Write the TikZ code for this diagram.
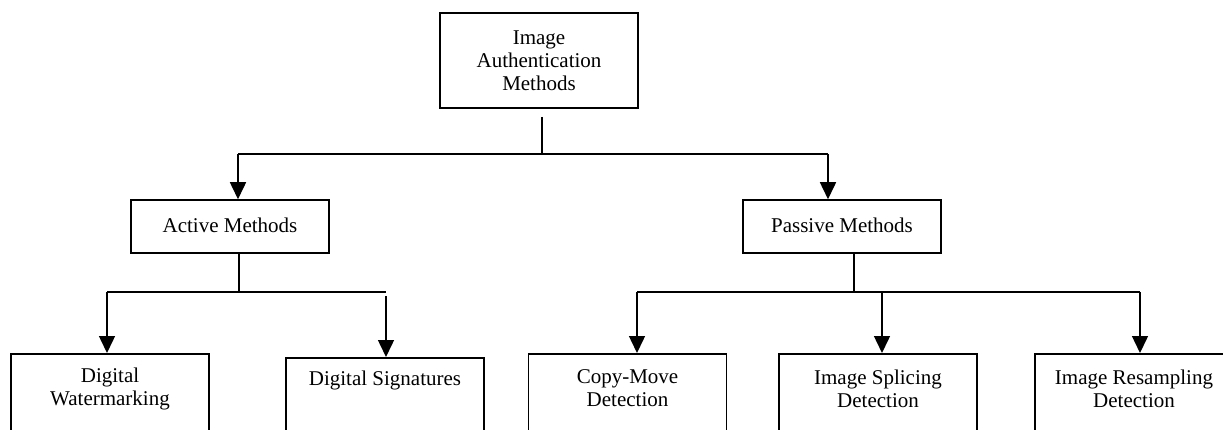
\documentclass[tikz,border=0pt]{standalone}
\usepackage{fontspec}
\setmainfont{Liberation Serif}
\usetikzlibrary{arrows.meta}
\begin{document}
\begin{tikzpicture}[x=1pt,y=-1pt,
  box/.style={draw=black,line width=1.5pt,inner sep=0pt,align=center,
    font=\fontsize{21}{23}\selectfont},
  leaf/.style={draw=black,line width=1.5pt,inner sep=0pt,minimum width=198pt,
    minimum height=130pt,anchor=north},
  lbl/.style={inner sep=0pt,align=center,font=\fontsize{21}{23}\selectfont},
  conn/.style={line width=1.5pt},
  arr/.style={line width=1.5pt,-{Triangle[width=16pt,length=17pt]}}]
\useasboundingbox (0,0) rectangle (1223,430);
\fill[white] (0,0) rectangle (1223,430);
% boxes
\node[box,minimum width=198pt,minimum height=95pt] (top) at (539,60.5) {Image\\Authentication\\Methods};
\node[box,minimum width=198pt,minimum height=53pt] (act) at (230,226.5) {\raisebox{2.5pt}{Active Methods}};
\node[box,minimum width=198pt,minimum height=53pt] (pas) at (842,226.5) {\raisebox{2.5pt}{Passive Methods}};
\node[leaf] (dw) at (110,353) {};
\node[leaf] (ds) at (385,357) {};
\node[leaf] (cm) at (627.5,353) {};
\node[leaf] (is) at (878,353) {};
\node[leaf] (ir) at (1134,353) {};
\node[lbl] (dwt) at (110,388.5) {Digital\\Watermarking};
\node[lbl] (dst) at (385,380.5) {Digital Signatures};
\node[lbl] (cmt) at (627.5,388.5) {Copy-Move\\Detection};
\node[lbl] (ist) at (878,388.5) {Image Splicing\\Detection};
\node[lbl] (irt) at (1134,388.5) {Image Resampling\\Detection};
% junctions
\coordinate (ts) at (542,117);
\coordinate (tj) at (542,154);
\coordinate (la) at (238,154);
\coordinate (ra) at (828,154);
\draw[conn] (ts) -- (tj);
\draw[conn] (la) -- (ra);
\draw[arr] (la) -- (la |- act.north);
\draw[arr] (ra) -- (ra |- pas.north);
% active
\coordinate (aj) at (239,292);
\coordinate (al) at (107,292);
\coordinate (ar) at (386,292);
\coordinate (ar2) at (386,296);
\draw[conn] (act.south -| aj) -- (aj);
\draw[conn] (al) -- (ar);
\draw[arr] (al) -- (al |- dw.north);
\draw[arr] (ar2) -- (ar2 |- ds.north);
% passive
\coordinate (pj) at (854,292);
\coordinate (pl) at (637,292);
\coordinate (pm) at (882,292);
\coordinate (pr) at (1140,292);
\draw[conn] (pas.south -| pj) -- (pj);
\draw[conn] (pl) -- (pr);
\draw[arr] (pl) -- (pl |- cm.north);
\draw[arr] (pm) -- (pm |- is.north);
\draw[arr] (pr) -- (pr |- ir.north);
\end{tikzpicture}
\end{document}
